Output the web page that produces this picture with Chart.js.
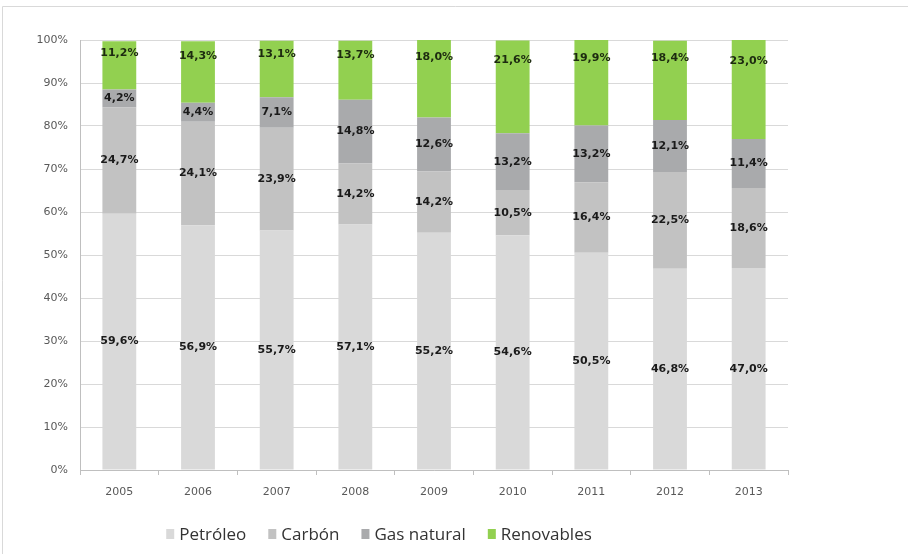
<!DOCTYPE html>
<html>
<head>
<meta charset="utf-8">
<script src="https://cdn.jsdelivr.net/npm/chart.js@4/dist/chart.umd.min.js"></script>
<style>
html,body{margin:0;padding:0;background:#fff;}
#wrap{width:908px;height:554px;position:relative;}
</style>
</head>
<body>
<div id="wrap"><canvas id="c" width="908" height="554"></canvas></div>
<script>
const categories = ['2005','2006','2007','2008','2009','2010','2011','2012','2013'];
const petroleo   = [59.6, 56.9, 55.7, 57.1, 55.2, 54.6, 50.5, 46.8, 47.0];
const carbon     = [24.7, 24.1, 23.9, 14.2, 14.2, 10.5, 16.4, 22.5, 18.6];
const gasNatural = [4.2, 4.4, 7.1, 14.8, 12.6, 13.2, 13.2, 12.1, 11.4];
const renovables = [11.2, 14.3, 13.1, 13.7, 18.0, 21.6, 19.9, 18.4, 23.0];
const seriesNames = ['Petróleo','Carbón','Gas natural','Renovables'];
const yTicks = [0,10,20,30,40,50,60,70,80,90,100];

const fmt = v => v.toFixed(1).replace('.', ',') + '%';

const labelPlugin = {
  id: 'segLabels',
  afterDatasetsDraw(chart) {
    const ctx = chart.ctx;
    ctx.save();
    ctx.font = 'bold 11px "DejaVu Sans", sans-serif';
    ctx.textAlign = 'center';
    ctx.textBaseline = 'middle';
    chart.data.datasets.forEach((ds, di) => {
      const meta = chart.getDatasetMeta(di);
      meta.data.forEach((bar, i) => {
        const v = ds.data[i];
        const h = bar.base - bar.y;
        let y;
        if (di === 3) {
          y = bar.y + 4 + 0.17 * h;
        } else {
          y = bar.y + h / 2;
        }
        ctx.fillStyle = di === 3 ? '#1d2b10' : '#1a1a1a';
        ctx.fillText(fmt(v), bar.x, y);
      });
    });
    ctx.restore();
  }
};

const legendPlugin = {
  id: 'customLegend',
  afterDraw(chart) {
    const ctx = chart.ctx;
    ctx.save();
    ctx.font = '17px "Open Sans", "DejaVu Sans", sans-serif';
    ctx.textBaseline = 'middle';
    ctx.textAlign = 'left';
    const boxW = 8, gapBoxText = 5, itemGap = 22, cy = 534;
    const items = chart.data.datasets.map(ds => ({ text: ds.label, color: ds.backgroundColor, w: ctx.measureText(ds.label).width }));
    let total = 0;
    items.forEach((it, i) => { total += boxW + gapBoxText + it.w + (i < items.length - 1 ? itemGap : 0); });
    let x = 379 - total / 2;
    items.forEach(it => {
      ctx.fillStyle = it.color;
      ctx.fillRect(x, cy - 5, boxW, 10);
      x += boxW + gapBoxText;
      ctx.fillStyle = '#333333';
      ctx.fillText(it.text, x, cy + 1);
      x += it.w + itemGap;
    });
    ctx.restore();
  }
};

const framePlugin = {
  id: 'frame',
  beforeDraw(chart) {
    const ctx = chart.ctx;
    ctx.save();
    ctx.strokeStyle = '#d9d9d9';
    ctx.lineWidth = 1;
    ctx.beginPath();
    ctx.moveTo(2.5, 560);
    ctx.lineTo(2.5, 6.5);
    ctx.lineTo(910, 6.5);
    ctx.stroke();
    ctx.restore();
  }
};

const colors = ['#d9d9d9', '#c2c2c2', '#a9aaac', '#92d050'];
const seriesData = [petroleo, carbon, gasNatural, renovables];

new Chart(document.getElementById('c'), {
  type: 'bar',
  data: {
    labels: categories,
    datasets: seriesNames.map((n, k) => ({
      label: n,
      data: seriesData[k],
      backgroundColor: colors[k],
      borderWidth: 0,
      categoryPercentage: 1,
      barPercentage: 0.43
    }))
  },
  options: {
    responsive: false,
    animation: false,
    devicePixelRatio: 1,
    layout: { padding: { left: 10, right: 120, top: 40, bottom: 54 } },
    plugins: {
      legend: { display: false },
      tooltip: { enabled: false }
    },
    scales: {
      x: {
        stacked: true,
        grid: { display: true, drawOnChartArea: false, drawTicks: true, tickLength: 5, color: '#bfbfbf', offset: true },
        border: { color: '#bfbfbf' },
        ticks: { color: '#595959', font: { size: 11, family: '"DejaVu Sans", sans-serif' }, padding: 11 },
        afterFit(s) { s.height = 30; }
      },
      y: {
        stacked: true,
        min: 0, max: 100,
        afterBuildTicks(s) { s.ticks = yTicks.map(v => ({ value: v })); },
        grid: { color: '#d9d9d9', drawTicks: false },
        border: { color: '#bfbfbf' },
        ticks: { color: '#595959', font: { size: 11, family: '"DejaVu Sans", sans-serif' }, padding: 12, callback: v => v + '%' },
        afterFit(s) { s.width = 70; }
      }
    }
  },
  plugins: [labelPlugin, legendPlugin, framePlugin]
});
</script>
</body>
</html>
